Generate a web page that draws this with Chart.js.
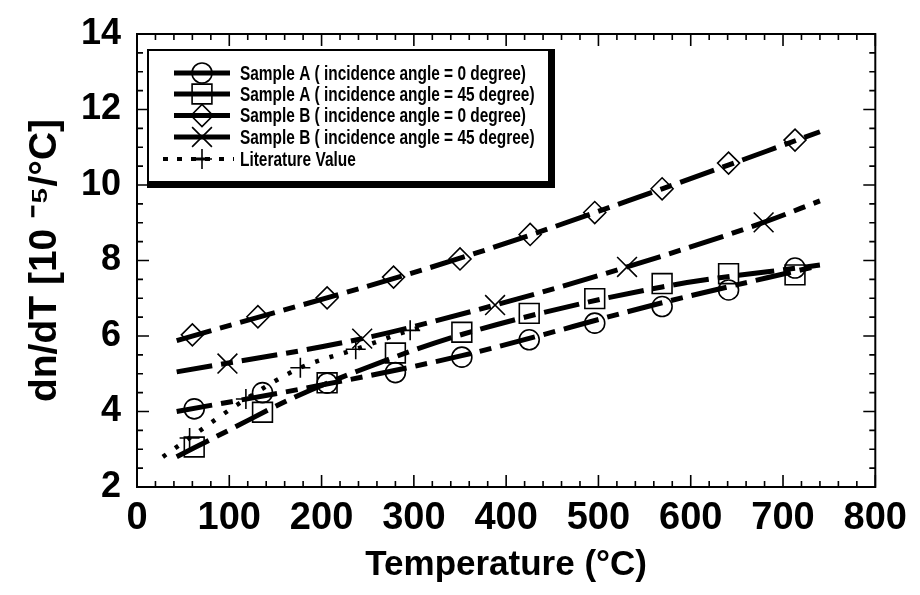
<!DOCTYPE html>
<html><head><meta charset="utf-8">
<script src="https://cdn.jsdelivr.net/npm/chart.js@4.4.0/dist/chart.umd.min.js"></script>
<style>html,body{margin:0;padding:0;background:#fff;}#wrap{width:920px;height:595px;}</style>
</head><body><div id="wrap"><canvas id="c" width="920" height="595"></canvas></div>
<script>
// ---- data ----
const xTickLabels = [0, 100, 200, 300, 400, 500, 600, 700, 800];
const yTickLabels = [2, 4, 6, 8, 10, 12, 14];

const seriesNames = [
  'Sample A ( incidence angle = 0 degree)',
  'Sample A ( incidence angle = 45 degree)',
  'Sample B ( incidence angle = 0 degree)',
  'Sample B ( incidence angle = 45 degree)',
  'Literature Value'
];

const sampleA0_T = [62, 136, 206, 280, 352, 425, 496, 569, 641, 713];
const sampleA0_V = [4.07, 4.50, 4.75, 5.03, 5.44, 5.90, 6.34, 6.78, 7.22, 7.80];
const sampleA45_T = [62, 136, 206, 280, 352, 425, 496, 569, 641, 713];
const sampleA45_V = [3.06, 3.98, 4.76, 5.55, 6.10, 6.60, 6.99, 7.39, 7.65, 7.62];
const sampleB0_T = [60, 131, 206, 278, 350, 426, 496, 569, 641, 713];
const sampleB0_V = [6.03, 6.51, 7.01, 7.56, 8.04, 8.69, 9.27, 9.90, 10.58, 11.19];
const sampleB45_T = [98, 244, 388, 531, 679];
const sampleB45_V = [5.27, 5.93, 6.82, 7.83, 9.01];
const literature_T = [57, 118, 177, 237, 296];
const literature_V = [3.30, 4.33, 5.16, 5.65, 6.15];

// fitted curves (dashed)
const fitA0_T = [43, 200, 352, 569, 740];
const fitA0_V = [4.00, 4.70, 5.48, 6.88, 7.87];
const fitA45_T = [43, 100, 170, 240, 352, 569, 740];
const fitA45_V = [2.80, 3.51, 4.37, 5.08, 6.04, 7.30, 7.88];
const fitB0_T = [43, 350, 569, 740];
const fitB0_V = [5.88, 8.06, 9.90, 11.41];
const fitB45_T = [43, 244, 388, 531, 679, 740];
const fitB45_V = [5.05, 5.93, 6.82, 7.83, 9.01, 9.58];
const litCurve_T = [28, 57, 118, 177, 237, 296, 316];
const litCurve_V = [2.80, 3.30, 4.33, 5.16, 5.65, 6.15, 6.28];

const pts = (xs, ys) => xs.map((x, i) => ({x: x, y: ys[i]}));

const FONT = "'Liberation Sans', Arial, sans-serif";
const FIT_DASH = [36, 9, 12, 9];

function markerSet(label, data, style, radius) {
  return {
    label: label, data: data, showLine: false,
    pointStyle: style, pointRadius: radius, pointHoverRadius: radius,
    pointBorderWidth: 1.6, pointBorderColor: '#000',
    pointBackgroundColor: 'rgba(0,0,0,0)', borderColor: '#000'
  };
}
function fitSet(data, dash, width) {
  return {
    label: '', data: data, showLine: true, pointRadius: 0, pointHoverRadius: 0,
    borderColor: '#000', borderWidth: width, borderDash: dash,
    cubicInterpolationMode: 'monotone', fill: false
  };
}

const markerDefs = [
  {style: 'circle', r: 10},
  {style: 'rect', r: 14},
  {style: 'rectRot', r: 11},
  {style: 'crossRot', r: 14},
  {style: 'cross', r: 10}
];

function drawMarker(ctx, style, r, x, y) {
  ctx.save();
  ctx.lineWidth = 1.6;
  ctx.strokeStyle = '#000';
  ctx.beginPath();
  if (style === 'circle') {
    ctx.arc(x, y, r, 0, Math.PI * 2);
  } else if (style === 'rect') {
    const s = Math.SQRT1_2 * r;
    ctx.rect(x - s, y - s, 2 * s, 2 * s);
  } else if (style === 'rectRot') {
    ctx.moveTo(x - r, y); ctx.lineTo(x, y - r); ctx.lineTo(x + r, y); ctx.lineTo(x, y + r); ctx.closePath();
  } else if (style === 'crossRot') {
    const o = Math.SQRT1_2 * r;
    ctx.moveTo(x - o, y - o); ctx.lineTo(x + o, y + o);
    ctx.moveTo(x - o, y + o); ctx.lineTo(x + o, y - o);
  } else if (style === 'cross') {
    ctx.moveTo(x - r, y); ctx.lineTo(x + r, y);
    ctx.moveTo(x, y - r); ctx.lineTo(x, y + r);
  }
  ctx.stroke();
  ctx.restore();
}

const framePlugin = {
  id: 'frame',
  afterDatasetsDraw(chart) {
    const ctx = chart.ctx, a = chart.chartArea;
    const xs = chart.scales.x, ys = chart.scales.y;
    ctx.save();
    ctx.strokeStyle = '#000';
    ctx.lineWidth = 2;
    ctx.strokeRect(a.left, a.top, a.right - a.left, a.bottom - a.top);
    ctx.lineWidth = 1.6;
    ctx.beginPath();
    xs.ticks.forEach(t => {
      const px = xs.getPixelForValue(t.value);
      const len = (Math.round(t.value) % 100 === 0) ? 12 : 6;
      ctx.moveTo(px, a.bottom); ctx.lineTo(px, a.bottom - len);
      ctx.moveTo(px, a.top); ctx.lineTo(px, a.top + len);
    });
    ys.ticks.forEach(t => {
      const py = ys.getPixelForValue(t.value);
      const major = Math.abs(t.value - Math.round(t.value)) < 1e-6 && Math.round(t.value) % 2 === 0;
      const len = major ? 12 : 6;
      ctx.moveTo(a.left, py); ctx.lineTo(a.left + len, py);
      ctx.moveTo(a.right, py); ctx.lineTo(a.right - len, py);
    });
    ctx.stroke();
    ctx.restore();
  },
  afterDraw(chart) {
    // legend box
    const ctx = chart.ctx;
    const L = 148, T = 50, R = 549, B = 182;
    ctx.save();
    ctx.fillStyle = '#fff';
    ctx.fillRect(L, T, R - L, B - T);
    ctx.fillStyle = '#000';
    ctx.fillRect(L - 1, T - 1, R - L + 2, 2);      // top
    ctx.fillRect(L - 1, T - 1, 2, B - T + 2);      // left
    ctx.fillRect(R - 1, T - 1, 7, B - T + 7);      // right (thick)
    ctx.fillRect(L - 1, B - 1, R - L + 7, 7);      // bottom (thick)
    const rows = [73, 94, 115.5, 137, 159];
    ctx.font = 'bold 20px ' + FONT;
    ctx.textBaseline = 'middle';
    const w0 = ctx.measureText(seriesNames[0]).width;
    const sx = 286 / w0;
    rows.forEach((y, i) => {
      ctx.save();
      ctx.strokeStyle = '#000';
      if (i < 4) {
        ctx.lineWidth = 5;
        ctx.beginPath(); ctx.moveTo(174, y); ctx.lineTo(230, y); ctx.stroke();
      } else {
        ctx.lineWidth = 4;
        ctx.setLineDash([5, 9]);
        ctx.beginPath(); ctx.moveTo(163, y); ctx.lineTo(234, y); ctx.stroke();
        ctx.setLineDash([]);
        ctx.lineWidth = 3;
        ctx.beginPath(); ctx.moveTo(192, y); ctx.lineTo(210, y); ctx.stroke();
      }
      ctx.restore();
      drawMarker(ctx, markerDefs[i].style, markerDefs[i].r, 202, y);
      ctx.save();
      ctx.translate(240, y);
      ctx.scale(sx, 1);
      ctx.fillStyle = '#000';
      ctx.fillText(seriesNames[i], 0, 1);
      ctx.restore();
    });
    ctx.restore();
  }
};

new Chart(document.getElementById('c'), {
  type: 'scatter',
  data: {
    datasets: [
      fitSet(pts(fitA0_T, fitA0_V), FIT_DASH, 5),
      fitSet(pts(fitA45_T, fitA45_V), FIT_DASH, 5),
      fitSet(pts(fitB0_T, fitB0_V), FIT_DASH, 5),
      fitSet(pts(fitB45_T, fitB45_V), FIT_DASH, 5),
      fitSet(pts(litCurve_T, litCurve_V), [4, 11], 4.5),
      markerSet(seriesNames[0], pts(sampleA0_T, sampleA0_V), 'circle', 10),
      markerSet(seriesNames[1], pts(sampleA45_T, sampleA45_V), 'rect', 14),
      markerSet(seriesNames[2], pts(sampleB0_T, sampleB0_V), 'rectRot', 11),
      markerSet(seriesNames[3], pts(sampleB45_T, sampleB45_V), 'crossRot', 14),
      markerSet(seriesNames[4], pts(literature_T, literature_V), 'cross', 10)
    ]
  },
  options: {
    responsive: false,
    devicePixelRatio: 1,
    animation: false,
    layout: {padding: {top: 31, right: 41, left: 0, bottom: 0}},
    plugins: {legend: {display: false}, tooltip: {enabled: false}},
    scales: {
      x: {
        type: 'linear', min: 0, max: 800,
        afterFit: s => { s.height = 108; },
        border: {display: false},
        grid: {drawOnChartArea: false, drawTicks: false},
        ticks: {
          stepSize: 20, autoSkip: false, maxRotation: 0, padding: 13,
          color: '#000',
          font: {family: FONT, size: 38, weight: 'bold', lineHeight: 1},
          callback: v => xTickLabels.includes(v) ? String(v) : ''
        },
        title: {
          display: true, text: 'Temperature (°C)', color: '#000',
          font: {family: FONT, size: 35, weight: 'bold', lineHeight: 1.2},
          padding: {top: 0, bottom: 9}
        }
      },
      y: {
        type: 'linear', min: 2, max: 14,
        afterFit: s => { s.width = 137; },
        border: {display: false},
        grid: {drawOnChartArea: false, drawTicks: false},
        ticks: {
          stepSize: 0.5, autoSkip: false, padding: 16,
          color: '#000',
          font: {family: FONT, size: 36, weight: 'bold', lineHeight: 1},
          callback: v => yTickLabels.includes(v) ? String(v) : ''
        },
        title: {
          display: true, text: 'dn/dT [10 \u207B\u2075/°C]', color: '#000',
          font: {family: FONT, size: 39, weight: 'bold', lineHeight: 1.2},
          padding: {top: 22, bottom: 0}
        }
      }
    }
  },
  plugins: [framePlugin]
});
</script>
</body></html>
